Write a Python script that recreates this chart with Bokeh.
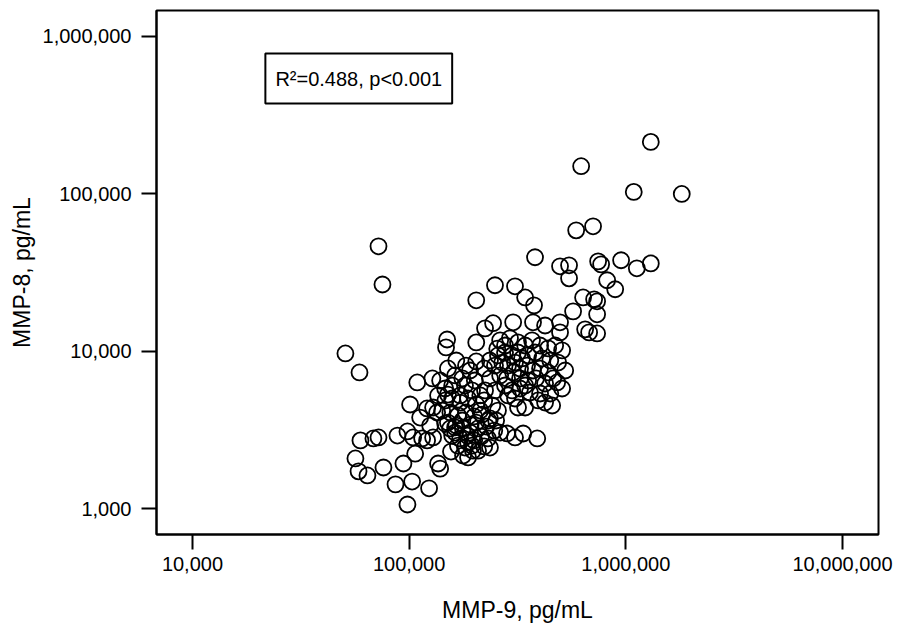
from bokeh.plotting import figure
from bokeh.models import Range1d, FixedTicker, NumeralTickFormatter, Label, ColumnDataSource
from bokeh.embed import file_html
from bokeh.resources import INLINE

# MMP-9 (x) and MMP-8 (y) concentrations, pg/mL
mmp9 = [
    1304000, 622000, 1088000, 1812000, 590000, 706000, 381000, 497000, 547000, 547000,
    745000, 769000, 951000, 1124000, 1304000, 820000, 893000, 249000, 308000, 343000,
    377000, 204000, 635000, 714000, 737000, 571000, 737000, 497000, 649000, 677000,
    737000, 497000, 424000, 373000, 302000, 244000, 224000, 72200, 75300, 50800,
    59000, 149700, 148000, 204000, 151000, 204000, 222000, 109000, 101000, 255000,
    146600, 151000, 112400, 121000, 129000, 134600, 125000, 88300, 98200, 104300,
    114800, 121000, 129000, 59600, 68400, 72200, 56500, 58400, 64200, 76100,
    94100, 106600, 86500, 103200, 123600, 98200, 136000, 139000, 156000, 146600,
    154600, 163000, 177300, 187000, 197000, 236000, 231000, 390000, 336000, 308000,
    283000, 263000, 482000, 457000, 343000, 318000, 402000, 448000,
    # upper dense cluster
    263000, 277000, 292000, 318000, 343000, 369000, 402000, 438000, 472000, 508000,
    257000, 277000, 299000, 318000, 332000, 354000, 381000, 411000, 448000, 487000,
    249000, 269000, 286000, 308000, 325000, 350000, 373000, 402000, 438000, 525000,
    263000, 283000, 302000, 325000, 354000, 385000, 424000, 462000, 508000, 277000,
    299000, 325000, 361000, 394000, 424000, 308000, 249000, 236000, 286000, 343000,
    # lower dense cluster
    147000, 158000, 172000, 187000, 204000, 222000, 242000, 257000, 142000, 155000,
    168000, 183000, 199500, 217000, 236000, 151000, 165000, 177000, 191000, 208000,
    227000, 247000, 158000, 172000, 185000, 199500, 215000, 168000, 181000, 195000,
    208000, 222000, 176000, 191000, 204000, 163000, 213000, 232000, 187000, 252000,
    # between the clusters
    128000, 139000, 163000, 181000, 201000, 224000, 172000, 136000, 191000, 236000,
    158000, 176000, 195000, 213000, 183000, 165000,
]
mmp8 = [
    214000, 150000, 103000, 100000, 58700, 62300, 39600, 34700, 35200, 29100,
    37300, 35700, 37900, 33700, 36200, 28300, 24800, 26300, 25900, 22000,
    19600, 21100, 22000, 21400, 20800, 17950, 17200, 15300, 13800, 13200,
    13000, 13200, 14600, 15300, 15300, 15100, 14000, 46500, 26600, 9700,
    7350, 11900, 10600, 11400, 7790, 8630, 7790, 6350, 4600, 10400,
    5810, 5320, 3800, 4340, 4400, 4090, 3380, 2920, 3100, 2840,
    2800, 2720, 2840, 2720, 2800, 2840, 2090, 1730, 1630, 1830,
    1940, 2240, 1430, 1490, 1350, 1065, 1940, 1800, 2310, 3480,
    3240, 3290, 2180, 2120, 2340, 2450, 2800, 2800, 3010, 2840,
    3010, 3050, 6350, 4530, 4400, 4400, 5400, 5400,
    # upper dense cluster
    11750, 10900, 12100, 11400, 10900, 11750, 10900, 10450, 10900, 10150,
    9420, 9840, 9420, 9840, 9020, 9420, 9840, 9020, 8750, 8490,
    8130, 8490, 8130, 8490, 7780, 8130, 7560, 7780, 7350, 7560,
    7030, 6730, 7350, 6730, 6530, 6730, 6250, 6730, 5810, 6070,
    5650, 5810, 5480, 4880, 4730, 5020, 5650, 6730, 5250, 6070,
    # lower dense cluster
    4880, 5020, 4730, 5020, 4600, 4880, 4530, 4210, 4210, 4090,
    3920, 4090, 3860, 3970, 3750, 3530, 3380, 3240, 3430, 3240,
    3330, 3140, 2920, 2800, 2920, 2720, 2880, 2520, 2450, 2520,
    2340, 2490, 3640, 3050, 3530, 3050, 4210, 3640, 2640, 3640,
    # between the clusters
    6730, 6530, 7030, 6070, 6530, 5650, 5250, 5250, 7560, 8750,
    6070, 6730, 5650, 5250, 8130, 8750,
]

x_ticks = [10_000, 100_000, 1_000_000, 10_000_000]
y_ticks = [1_000, 10_000, 100_000, 1_000_000]
x_title = "MMP-9, pg/mL"
y_title = "MMP-8, pg/mL"
stat_text = "R²=0.488, p<0.001"

FONT = "Liberation Sans"

src = ColumnDataSource(data=dict(mmp9=mmp9, mmp8=mmp8))

p = figure(
    width=901, height=630,
    x_axis_type="log", y_axis_type="log",
    x_range=Range1d(6823, 14_660_000),
    y_range=Range1d(687, 1_462_000),
    output_backend="svg", toolbar_location=None,
    min_border_left=156, min_border_right=23,
    min_border_top=10, min_border_bottom=96,
    background_fill_color="white", border_fill_color="white",
)

p.xgrid.visible = False
p.ygrid.visible = False
p.outline_line_color = "black"
p.outline_line_width = 2
p.outline_line_alpha = 1.0

for ax, ticks, title in ((p.xaxis[0], x_ticks, x_title), (p.yaxis[0], y_ticks, y_title)):
    ax.ticker = FixedTicker(ticks=ticks)
    ax.formatter = NumeralTickFormatter(format="0,0")
    ax.axis_label = title
    ax.axis_label_text_font = FONT
    ax.axis_label_text_font_size = "23px"
    ax.axis_label_text_font_style = "normal"
    ax.axis_label_text_color = "black"
    ax.major_label_text_font = FONT
    ax.major_label_text_font_size = "20px"
    ax.major_label_text_color = "black"
    ax.axis_line_color = "black"
    ax.axis_line_width = 2
    ax.major_tick_line_color = "black"
    ax.major_tick_line_width = 2
    ax.major_tick_out = 15
    ax.major_tick_in = 0
    ax.minor_tick_line_color = None

p.xaxis[0].major_label_standoff = 7
p.xaxis[0].axis_label_standoff = 23
p.yaxis[0].major_label_standoff = 10
p.yaxis[0].axis_label_standoff = 5

p.scatter(x="mmp9", y="mmp8", source=src, marker="circle", size=16,
          fill_color=None, line_color="black", line_width=1.8)

stat = Label(
    x=21700, y=375000, text=stat_text,
    text_font=FONT, text_font_size="20px", text_color="black",
    text_align="left", text_baseline="bottom",
    border_line_color="black", border_line_width=2,
    background_fill_color="white",
    padding=dict(left=10, right=10, top=14, bottom=14),
)
p.add_layout(stat)

open("out.html", "w").write(file_html(p, INLINE))
